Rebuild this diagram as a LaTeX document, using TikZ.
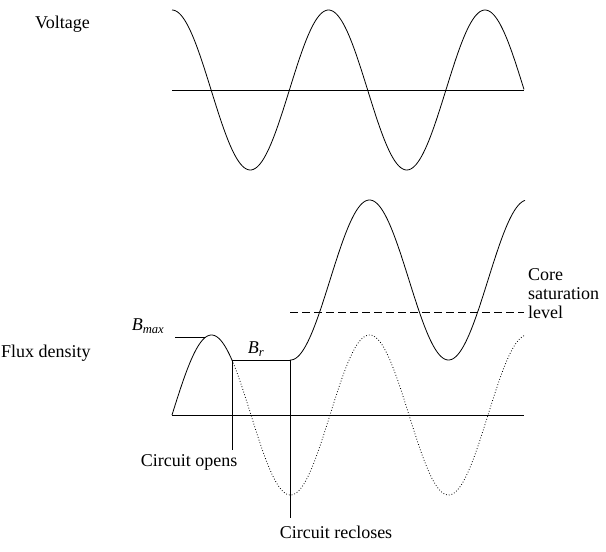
\documentclass[tikz,border=0pt]{standalone}
\usepackage{fontspec}
\setmainfont{Liberation Serif}
\usetikzlibrary{positioning}
\tikzset{lbl/.style={inner sep=1pt,font=\fontsize{18}{19}\selectfont}}
\begin{document}
\begin{tikzpicture}[x=1pt,y=-1pt]
\useasboundingbox (0,0) rectangle (606,552);
% voltage
\node[lbl,anchor=west] (volt) at (34,24) {Voltage};
\coordinate (va) at (172,90);
\coordinate (vb) at (524,90);
\draw (va) -- (vb);
\draw[thick,domain=172:524,samples=200] plot (\x,{90-80*cos((\x-172)*2.3))});
% flux
\node[lbl,anchor=west] (flux) at (0,353) {Flux density};
\coordinate (fa) at (172,415);
\coordinate (fb) at (524,415);
\draw (fa) -- (fb);
\draw[dotted,thick,domain=232:525,samples=200] plot (\x,{415-80*sin((\x-172)*2.27848)});
\draw[thick,domain=172:232,samples=60] plot (\x,{415-80*sin((\x-172)*2.27848)});
\coordinate (br1) at (232,360);
\coordinate (br2) at (290,360);
\draw[thick] (br1) -- (br2);
\draw[thick,domain=290:525,samples=200] plot (\x,{280-80*sin((\x-172)*2.27848)});
% saturation
\coordinate (sa) at (290,312);
\coordinate (sb) at (524,312);
\draw[dash pattern=on 8pt off 4pt] (sa) -- (sb);
\node[lbl,anchor=west,align=left] (sat) at (527,294) {Core\\saturation\\level};
% labels
\node[lbl] (bmax) at (148,326) {\textit{B}\textsubscript{\textit{max}}};
\coordinate (bm1) at (175,337);
\coordinate (bm2) at (205,337);
\draw (bm1) -- (bm2);
\node[lbl] (br) at (256,349) {\textit{B}\textsubscript{\textit{r}}};
\node[lbl] (open) at (189,462) {Circuit opens};
\node[lbl] (close) at (336,532) {Circuit recloses};
\coordinate (op) at (232,450);
\coordinate (cl) at (290,518);
\draw (br1) -- (op);
\draw (br2) -- (cl);
\end{tikzpicture}
\end{document}
